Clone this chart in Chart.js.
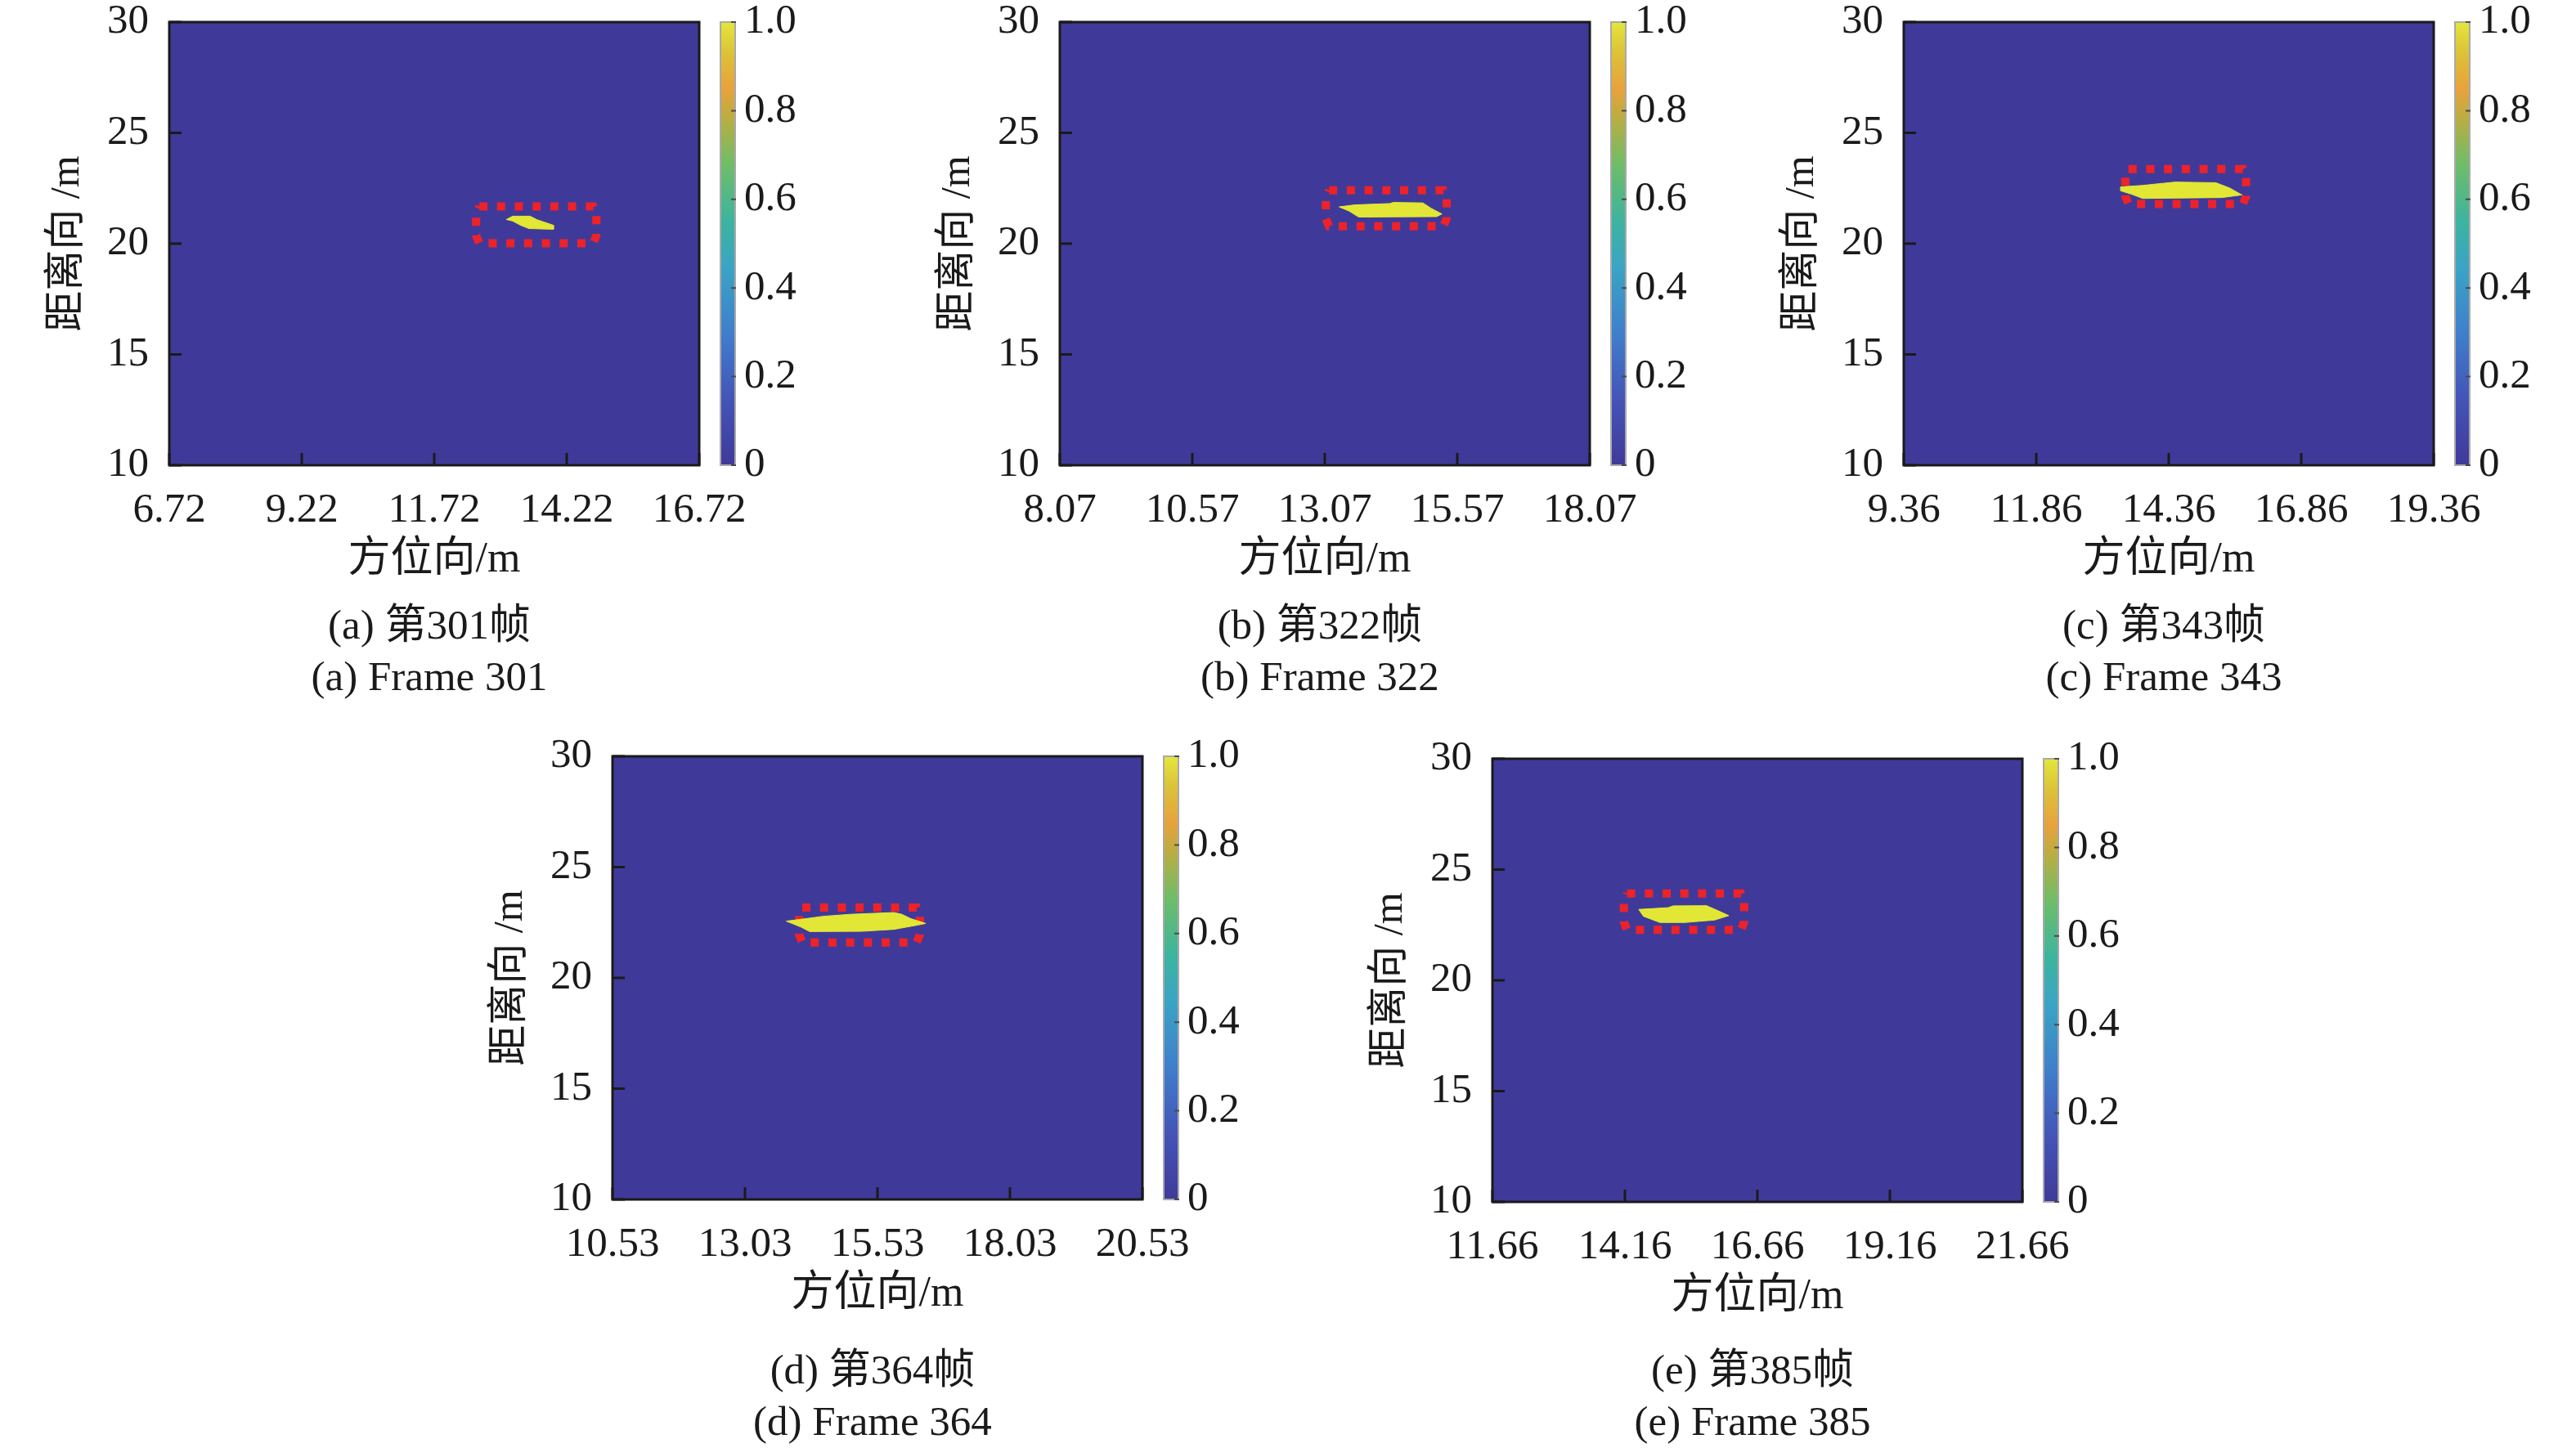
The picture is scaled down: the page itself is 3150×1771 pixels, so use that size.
<!DOCTYPE html>
<html lang="zh">
<head>
<meta charset="UTF-8">
<title>目标检测结果</title>
<script src="https://cdn.jsdelivr.net/npm/chart.js"></script>
<style>
    body { margin: 0; width: 3150px; height: 1771px; background: #fff; overflow: hidden; position: relative; }
    canvas { position: absolute; }
    .cap { position: absolute; width: 800px; text-align: center; font: 51px/60px 'Liberation Serif', 'Noto Sans CJK SC', serif; color: #1a1a1a; white-space: nowrap; }
</style>
</head>
<body>

<script>
    // --- data ---
    const panelTags = ['a', 'b', 'c', 'd', 'e']
    const frames = [301, 322, 343, 364, 385]

    const xTicksA = [6.72, 9.22, 11.72, 14.22, 16.72]
    const xTicksB = [8.07, 10.57, 13.07, 15.57, 18.07]
    const xTicksC = [9.36, 11.86, 14.36, 16.86, 19.36]
    const xTicksD = [10.53, 13.03, 15.53, 18.03, 20.53]
    const xTicksE = [11.66, 14.16, 16.66, 19.16, 21.66]
    const yTicks = [10, 15, 20, 25, 30]
    const cbTicks = [0, 0.2, 0.4, 0.6, 0.8, 1.0]

    // target outline (方位向 m, 距离向 m)
    const targetA = [[13.08, 21.09], [13.20, 21.24], [13.53, 21.24], [13.66, 21.08], [13.97, 20.83], [13.97, 20.65], [13.51, 20.68], [13.35, 20.83], [13.20, 21.02]]
    const targetB = [[13.34, 21.66], [13.64, 21.75], [14.30, 21.81], [14.36, 21.86], [14.92, 21.84], [15.08, 21.59], [15.28, 21.34], [15.18, 21.22], [13.71, 21.20], [13.53, 21.47]]
    const targetC = [[13.45, 22.56], [13.87, 22.63], [14.48, 22.78], [15.25, 22.75], [15.51, 22.51], [15.74, 22.20], [15.36, 22.08], [13.87, 22.04], [13.66, 22.23], [13.46, 22.38]]
    const targetD = [[13.81, 22.56], [14.20, 22.68], [14.51, 22.78], [15.02, 22.87], [15.84, 22.95], [15.99, 22.87], [16.15, 22.68], [16.44, 22.46], [16.26, 22.37], [15.84, 22.19], [15.23, 22.10], [14.25, 22.09], [14.09, 22.29]]
    const targetE = [[14.42, 23.20], [14.98, 23.28], [15.07, 23.36], [15.70, 23.37], [15.90, 23.16], [16.12, 22.92], [15.85, 22.72], [15.29, 22.61], [14.82, 22.61], [14.51, 22.89]]

    // red detection box: [x1, x2, y1, y2]
    const boxA = [12.51, 14.78, 20.02, 21.68]
    const boxB = [13.09, 15.37, 20.78, 22.41]
    const boxC = [13.54, 15.82, 21.79, 23.37]
    const boxD = [14.05, 16.33, 21.60, 23.17]
    const boxE = [14.14, 16.41, 22.28, 23.92]

    // parula-ish colour map as it looks in the print
    const cmapPos = [0, 0.15, 0.3, 0.45, 0.55, 0.68, 0.78, 0.85, 0.93, 1]
    const cmapColors = ['#3f3a99', '#4454b8', '#3f7fcc', '#3aa5c4', '#3cb49f', '#6fbd68', '#b8ae42', '#e8a23c', '#dcc238', '#e4e63a']

    // --- layout (pixels on the page) ---
    const plotLeft = [207, 1296, 2328, 749, 1825]
    const plotTop = [27, 27, 27, 925, 928]
    const W = 648, H = 542
    const capTop = [[734, 797], [734, 797], [734, 797], [1645, 1708], [1645, 1708]]
    const PAD_T = 70, PAD_R = 110, CB_PAD = 60

    const xTickSets = [xTicksA, xTicksB, xTicksC, xTicksD, xTicksE]
    const targets = [targetA, targetB, targetC, targetD, targetE]
    const boxes = [boxA, boxB, boxC, boxD, boxE]

    const FONT = "'Liberation Serif', 'Noto Sans CJK SC', serif"
    const INK = '#1a1a1a'
    const BG = '#3f3a99'
    const YELLOW = '#e2e735'
    const RED = '#ee2229'

    const framePlugin = {
        id: 'frame',
        beforeDatasetsDraw(chart) {
            const a = chart.chartArea, c = chart.ctx
            c.save()
            c.fillStyle = BG
            c.fillRect(a.left, a.top, a.right - a.left, a.bottom - a.top)
            c.restore()
        },
        afterDatasetsDraw(chart) {
            const a = chart.chartArea, c = chart.ctx
            const xs = chart.scales.x, ys = chart.scales.y
            c.save()
            c.strokeStyle = INK
            c.lineWidth = 3
            c.beginPath()
            xs.ticks.forEach(t => {
                const px = xs.getPixelForValue(t.value)
                c.moveTo(px, a.bottom); c.lineTo(px, a.bottom - 15)
            })
            ys.ticks.forEach(t => {
                const py = ys.getPixelForValue(t.value)
                c.moveTo(a.left, py); c.lineTo(a.left + 15, py)
            })
            c.stroke()
            c.strokeRect(a.left, a.top, a.right - a.left, a.bottom - a.top)
            c.restore()
        }
    }

    const cbPlugin = {
        id: 'cbframe',
        afterDatasetsDraw(chart) {
            const a = chart.chartArea, c = chart.ctx, ys = chart.scales.y
            c.save()
            c.strokeStyle = '#a9a9a9'
            c.lineWidth = 2
            c.strokeRect(a.left + 1, a.top, a.right - a.left - 2, a.bottom - a.top)
            c.strokeStyle = '#4a4a4a'
            c.beginPath()
            ys.ticks.forEach(t => {
                const py = ys.getPixelForValue(t.value)
                c.moveTo(a.right - 6, py); c.lineTo(a.right, py)
            })
            c.stroke()
            c.restore()
        }
    }

    function boxPoints(b) {
        const dx = 0.06, dy = 0.35
        const [x1, x2, y1, y2] = b
        return [
            { x: x1 + dx, y: y2 }, { x: x2 - dx, y: y2 }, { x: x2, y: y2 - dy }, { x: x2, y: y1 + dy },
            { x: x2 - dx, y: y1 }, { x: x1 + dx, y: y1 }, { x: x1, y: y1 + dy }, { x: x1, y: y2 - dy },
            { x: x1 + dx, y: y2 }
        ]
    }

    function makeCanvas(left, top, w, h) {
        const cv = document.createElement('canvas')
        cv.width = w; cv.height = h
        cv.style.left = left + 'px'; cv.style.top = top + 'px'
        cv.style.width = w + 'px'; cv.style.height = h + 'px'
        document.body.appendChild(cv)
        return cv
    }

    function caption(text, cx, top) {
        const d = document.createElement('div')
        d.className = 'cap'
        d.textContent = text
        d.style.left = (cx - 400) + 'px'
        d.style.top = top + 'px'
        document.body.appendChild(d)
    }

    panelTags.forEach((tag, i) => {
        const L = plotLeft[i], T = plotTop[i]
        const xt = xTickSets[i]
        const pts = targets[i].map(p => ({ x: p[0], y: p[1] }))
        pts.push({ x: targets[i][0][0], y: targets[i][0][1] })

        const main = makeCanvas(L - 200, T - PAD_T, 200 + W + PAD_R, PAD_T + H + 170)
        new Chart(main, {
            type: 'scatter',
            data: {
                datasets: [{
                    data: pts,
                    showLine: true,
                    fill: 'shape',
                    backgroundColor: YELLOW,
                    borderColor: YELLOW,
                    borderWidth: 1,
                    pointRadius: 0,
                    tension: 0
                }, {
                    data: boxPoints(boxes[i]),
                    showLine: true,
                    fill: false,
                    borderColor: RED,
                    borderWidth: 10,
                    borderDash: [10, 11.7],
                    borderCapStyle: 'butt',
                    borderJoinStyle: 'miter',
                    pointRadius: 0,
                    tension: 0
                }]
            },
            options: {
                responsive: false,
                animation: false,
                events: [],
                layout: { padding: { left: 0, top: PAD_T, right: PAD_R, bottom: 0 } },
                plugins: { legend: { display: false }, tooltip: { enabled: false } },
                scales: {
                    x: {
                        type: 'linear', min: xt[0], max: xt[xt.length - 1],
                        grid: { display: false, drawTicks: false },
                        border: { display: false },
                        afterBuildTicks: s => { s.ticks = xt.map(v => ({ value: v })) },
                        afterFit: s => { s.height = 170 },
                        ticks: { padding: 25, autoSkip: false, maxRotation: 0, color: INK, font: { family: FONT, size: 51 }, callback: v => v.toFixed(2) },
                        title: { display: true, text: '方位向/m', color: INK, font: { family: FONT, size: 52 }, padding: { top: 0, bottom: 22 } }
                    },
                    y: {
                        type: 'linear', min: 10, max: 30,
                        grid: { display: false, drawTicks: false },
                        border: { display: false },
                        afterBuildTicks: s => { s.ticks = yTicks.map(v => ({ value: v })) },
                        afterFit: s => { s.width = 200 },
                        ticks: { padding: 25, color: INK, font: { family: FONT, size: 51 }, callback: v => String(v) },
                        title: { display: true, text: '距离向 /m', color: INK, font: { family: FONT, size: 50 }, padding: { top: 46, bottom: 0 } }
                    }
                }
            },
            plugins: [framePlugin]
        })

        const cb = makeCanvas(L + W + 25, T - CB_PAD, 20 + 120, H + 2 * CB_PAD)
        new Chart(cb, {
            type: 'bar',
            data: {
                labels: ['cb'],
                datasets: [{
                    data: [[cbTicks[0], cbTicks[cbTicks.length - 1]]],
                    backgroundColor: c => {
                        const a = c.chart.chartArea
                        if (!a) return cmapColors[0]
                        const g = c.chart.ctx.createLinearGradient(0, a.bottom, 0, a.top)
                        cmapPos.forEach((p, k) => g.addColorStop(p, cmapColors[k]))
                        return g
                    },
                    borderWidth: 0,
                    barPercentage: 1,
                    categoryPercentage: 1
                }]
            },
            options: {
                responsive: false,
                animation: false,
                events: [],
                layout: { padding: { left: 0, top: CB_PAD, right: 0, bottom: CB_PAD } },
                plugins: { legend: { display: false }, tooltip: { enabled: false } },
                scales: {
                    x: { display: false },
                    y: {
                        position: 'right', min: 0, max: 1,
                        grid: { display: false, drawTicks: false },
                        border: { display: false },
                        afterBuildTicks: s => { s.ticks = cbTicks.map(v => ({ value: v })) },
                        afterFit: s => { s.width = 120 },
                        ticks: { padding: 10, color: INK, font: { family: FONT, size: 51 }, callback: v => v === 0 ? '0' : v.toFixed(1) }
                    }
                }
            },
            plugins: [cbPlugin]
        })

        const cx = L + W / 2
        caption('(' + tag + ') 第' + frames[i] + '帧', cx - 6, capTop[i][0])
        caption('(' + tag + ') Frame ' + frames[i], cx - 6, capTop[i][1])
    })
</script>
</body>
</html>
